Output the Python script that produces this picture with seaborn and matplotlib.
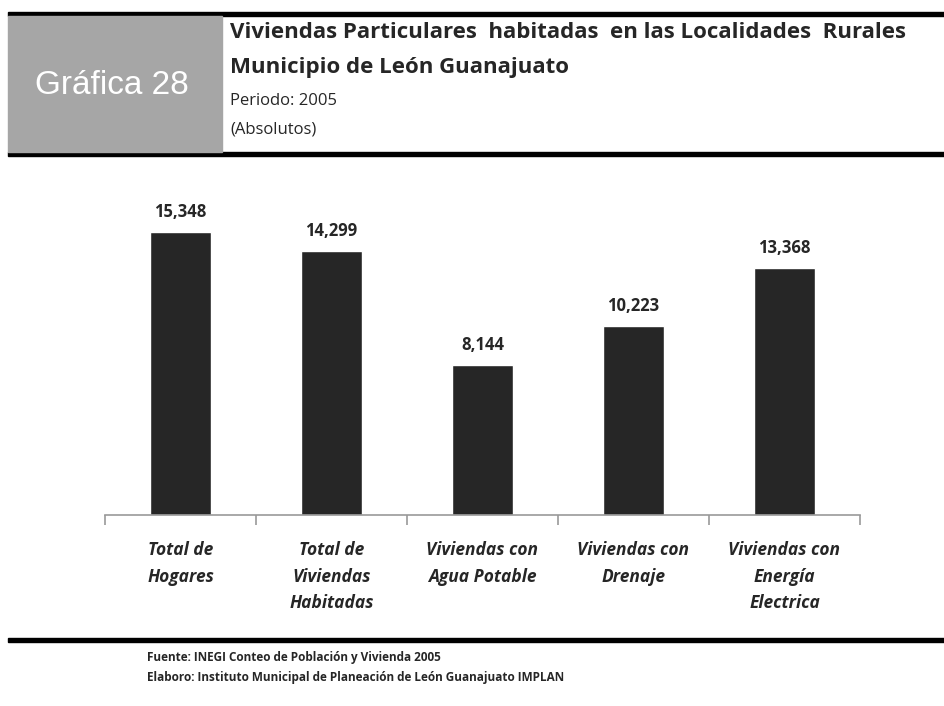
import matplotlib
matplotlib.use("Agg")
import matplotlib.pyplot as plt
import matplotlib.patches as mpatches
import numpy as np
import pandas as pd
import seaborn as sns

# data
categorias = ["Total de\nHogares", "Total de\nViviendas\nHabitadas", "Viviendas con\nAgua Potable",
              "Viviendas con\nDrenaje", "Viviendas con\nEnergía\nElectrica"]
valores = [15348, 14299, 8144, 10223, 13368]

df = pd.DataFrame({"categoria": categorias, "valor": valores})

sns.set_style("white")
plt.rcParams['font.family'] = ['Open Sans', 'DejaVu Sans']

W, H = 945, 706
fig = plt.figure(figsize=(W / 100, H / 100), dpi=100)

def fx(px):
    return px / W

def fy(py):
    return 1 - py / H

# header: black rules + gray box
fig.add_artist(mpatches.Rectangle((fx(8), fy(16)), fx(937), 4 / H, color="black", transform=fig.transFigure))
fig.add_artist(mpatches.Rectangle((fx(8), fy(156)), fx(937), 4 / H, color="black", transform=fig.transFigure))
fig.add_artist(mpatches.Rectangle((fx(8), fy(152)), fx(214), 136 / H, color="#a6a6a6", transform=fig.transFigure))
fig.text(fx(112), fy(86), "Gráfica 28", color="white", fontsize=24, ha="center", va="center",
         family=["Liberation Sans", "DejaVu Sans"])
fig.text(fx(230), fy(33), "Viviendas Particulares  habitadas  en las Localidades  Rurales", fontsize=16,
         fontweight="bold", ha="left", va="center")
fig.text(fx(230), fy(68), "Municipio de León Guanajuato", fontsize=16, fontweight="bold", ha="left", va="center")
fig.text(fx(230), fy(101), "Periodo: 2005", fontsize=12, ha="left", va="center")
fig.text(fx(230), fy(130), "(Absolutos)", fontsize=12, ha="left", va="center")

# bottom rule + footer
fig.add_artist(mpatches.Rectangle((fx(8), fy(642)), fx(937), 4 / H, color="black", transform=fig.transFigure))
fig.text(fx(147), fy(657), "Fuente: INEGI Conteo de Población y Vivienda 2005", fontsize=8.5,
         fontweight="bold", ha="left", va="center")
fig.text(fx(147), fy(678), "Elaboro: Instituto Municipal de Planeación de León Guanajuato IMPLAN", fontsize=8.5,
         fontweight="bold", ha="left", va="center")

# chart area
ax = fig.add_axes([fx(105), fy(515), fx(755), (515 - 183) / H])
sns.barplot(data=df, x="categoria", y="valor", color="#262626", width=0.4, saturation=1, ax=ax)
ax.set_ylim(0, 18000)
ax.set_xlim(-0.5, len(categorias) - 0.5)
ax.set_xlabel("")
ax.set_ylabel("")
ax.set_yticks([])
for s in ["top", "left", "right"]:
    ax.spines[s].set_visible(False)
ax.spines["bottom"].set_color("#999999")
ax.spines["bottom"].set_linewidth(1.2)

ax.set_xticks(np.arange(-0.5, len(categorias)), minor=True)
ax.tick_params(axis="x", which="minor", bottom=True, length=7, color="#999999", width=1.2, direction="out")
ax.tick_params(axis="x", which="major", bottom=False, length=0, pad=19)
ax.set_xticks(range(len(categorias)))
ax.set_xticklabels(categorias, fontsize=12.5, fontweight="bold", fontstyle="italic", linespacing=1.6, va="top")

for i, v in enumerate(valores):
    ax.text(i, v + 600, f"{v:,}", ha="center", va="bottom", fontsize=12, fontweight="bold")

fig.savefig("out.png", dpi=100)
